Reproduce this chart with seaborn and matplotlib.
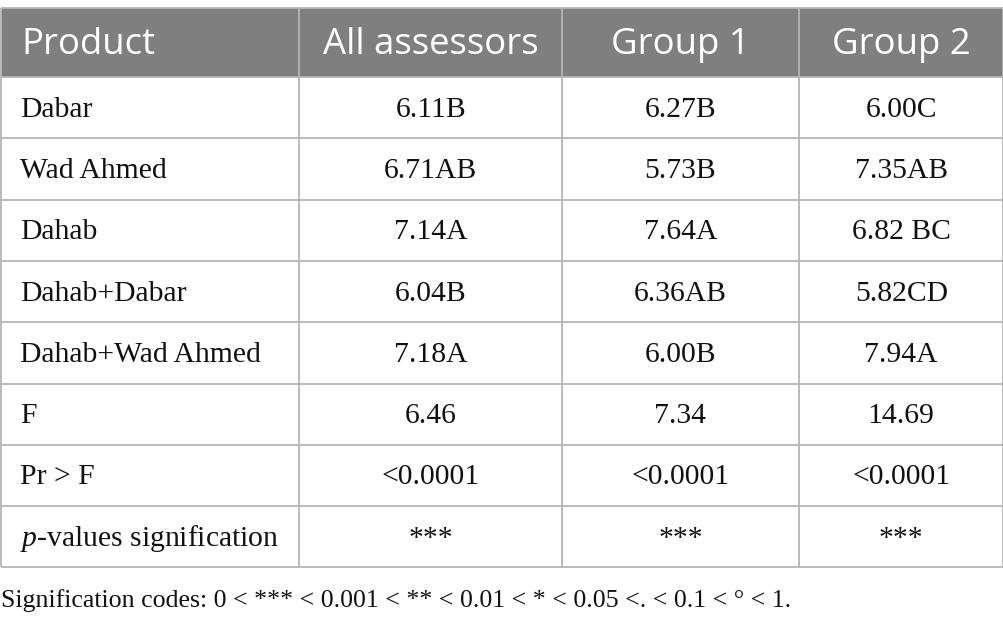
import matplotlib
matplotlib.use("Agg")
import matplotlib.pyplot as plt
import seaborn as sns
from matplotlib.patches import Rectangle

# ---- data ----
columns = ["Product", "All assessors", "Group 1", "Group 2"]
products = ["Dabar", "Wad Ahmed", "Dahab", "Dahab+Dabar", "Dahab+Wad Ahmed",
            "F", "Pr > F", "p-values signification"]
all_assessors = ["6.11B", "6.71AB", "7.14A", "6.04B", "7.18A", "6.46", "<0.0001", "***"]
group1 = ["6.27B", "5.73B", "7.64A", "6.36AB", "6.00B", "7.34", "<0.0001", "***"]
group2 = ["6.00C", "7.35AB", "6.82 BC", "5.82CD", "7.94A", "14.69", "<0.0001", "***"]
footnote = "Signification codes: 0 < *** < 0.001 < ** < 0.01 < * < 0.05 <. < 0.1 < \u00b0 < 1."

sns.set_theme(style="white")
plt.rcParams["mathtext.fontset"] = "custom"
plt.rcParams["mathtext.it"] = "Liberation Serif:italic"
plt.rcParams["mathtext.rm"] = "Liberation Serif"

W, H = 1004, 628
fig = plt.figure(figsize=(W / 100, H / 100), dpi=100)
ax = fig.add_axes([0, 0, 1, 1])
ax.set_xlim(0, W)
ax.set_ylim(H, 0)
ax.axis("off")

col_edges = [0.5, 299.3, 562, 799, 1003.5]
top = 8.3
header_bottom = 77
row_h = 61.3
n_rows = len(products)
bottom = header_bottom + n_rows * row_h

line_c = "#b5b5b5"
header_c = "#7f7f7f"

# header
ax.add_patch(Rectangle((col_edges[0], top), col_edges[-1] - col_edges[0],
                       header_bottom - top, facecolor=header_c, edgecolor="none"))

hfont = dict(family="Open Sans", fontsize=26.3, color="white", va="center")
hy = (top + header_bottom) / 2 + 2
for i, name in enumerate(columns):
    if i == 0:
        ax.text(col_edges[0] + 21, hy, name, ha="left", **hfont)
    else:
        ax.text((col_edges[i] + col_edges[i + 1]) / 2, hy, name, ha="center", **hfont)

# grid lines
lw = 1.3
for y in [top, header_bottom] + [header_bottom + k * row_h for k in range(1, n_rows + 1)]:
    ax.plot([col_edges[0], col_edges[-1]], [y, y], color=line_c, lw=lw, solid_capstyle="butt")
for x in col_edges:
    ax.plot([x, x], [top, bottom], color=line_c, lw=lw, solid_capstyle="butt")

bfont = dict(family="Liberation Serif", fontsize=21.3, color="#111111", va="center")
table_cols = [all_assessors, group1, group2]
for r, prod in enumerate(products):
    yc = header_bottom + (r + 0.5) * row_h + 2
    label = prod
    if prod.startswith("p-values"):
        label = r"$\it{p}$" + "-values signification"
    ax.text(col_edges[0] + 20, yc, label, ha="left", **bfont)
    for c, vals in enumerate(table_cols):
        xc = (col_edges[c + 1] + col_edges[c + 2]) / 2
        ax.text(xc, yc, vals[r], ha="center", **bfont)

ax.text(1, 601, footnote, ha="left", family="Liberation Serif", fontsize=18.6,
        color="#111111", va="center")

fig.savefig("out.png", dpi=100)
